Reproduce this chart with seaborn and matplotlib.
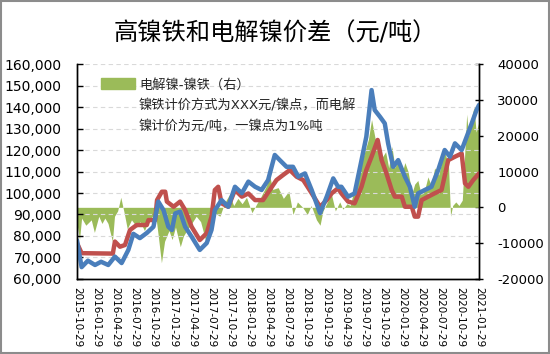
import matplotlib
matplotlib.use("Agg")
import matplotlib.pyplot as plt
import matplotlib.patches as mpatches
import matplotlib.dates as mdates
import matplotlib.ticker as mticker
import pandas as pd
import seaborn as sns

# 高镍铁 / 电解镍 prices (left axis) and spread (right axis)
blue_dates = ["2015-10-29", "2015-11-20", "2015-12-20", "2016-01-23", "2016-02-21", "2016-03-26",
              "2016-04-27", "2016-05-29", "2016-06-30", "2016-07-24", "2016-08-24", "2016-09-26",
              "2016-10-28", "2016-11-20", "2016-12-15", "2017-01-07", "2017-01-24", "2017-02-09",
              "2017-03-04", "2017-03-28", "2017-04-28", "2017-06-06", "2017-07-09", "2017-08-01",
              "2017-08-17", "2017-09-18", "2017-10-20", "2017-11-21", "2017-12-24", "2018-01-24",
              "2018-02-25", "2018-03-28", "2018-04-28", "2018-05-30", "2018-06-23", "2018-07-25",
              "2018-08-25", "2018-09-19", "2018-10-21", "2018-11-22", "2019-01-01", "2019-02-02",
              "2019-03-05", "2019-03-28", "2019-04-13", "2019-05-15", "2019-06-15", "2019-07-18",
              "2019-08-10", "2019-09-04", "2019-09-19", "2019-10-14", "2019-11-06", "2019-11-22",
              "2019-12-16", "2020-01-09", "2020-02-10", "2020-03-05", "2020-03-28", "2020-04-13",
              "2020-05-15", "2020-06-16", "2020-07-18", "2020-08-18", "2020-09-12", "2020-10-06",
              "2020-11-07", "2020-12-01", "2020-12-25", "2021-01-17", "2021-01-29"]
blue_vals = [78000, 65500, 68500, 66500, 68000, 66500,
             70400, 67400, 73500, 81000, 79000, 81400,
             84300, 96000, 92000, 84300, 82800, 90500,
             91300, 84300, 79700, 73500, 76700, 82800,
             92000, 96700, 93600, 102900, 99900, 105300,
             102900, 101400, 106000, 117700, 115300, 112200,
             112200, 107600, 109100, 101400, 90600, 98300,
             106800, 102900, 102900, 98300, 99800, 115300,
             126200, 147900, 138600, 135500, 132400, 123100,
             112200, 115300, 107600, 102900, 93600, 99800,
             101400, 102900, 110700, 120000, 116900, 123100,
             120000, 126200, 132400, 138600, 141000]

red_dates = ["2015-10-29", "2015-11-20", "2016-04-17", "2016-04-27", "2016-05-21", "2016-06-14",
             "2016-07-08", "2016-08-09", "2016-09-26", "2016-10-04", "2016-11-05", "2016-11-14",
             "2016-12-07", "2016-12-23", "2016-12-31", "2017-02-01", "2017-03-04", "2017-03-28",
             "2017-04-28", "2017-06-06", "2017-07-09", "2017-08-01", "2017-08-17", "2017-09-02",
             "2017-09-18", "2017-10-20", "2017-11-21", "2017-12-24", "2018-01-24", "2018-02-25",
             "2018-04-04", "2018-05-06", "2018-06-07", "2018-07-09", "2018-08-10", "2018-09-11",
             "2018-10-13", "2018-11-22", "2019-01-01", "2019-02-02", "2019-02-26", "2019-03-28",
             "2019-04-13", "2019-05-15", "2019-06-15", "2019-07-18", "2019-08-10", "2019-09-04",
             "2019-10-03", "2019-10-22", "2019-11-14", "2019-12-09", "2019-12-24", "2020-01-26",
             "2020-02-10", "2020-03-14", "2020-03-28", "2020-04-13", "2020-04-30", "2020-05-31",
             "2020-07-02", "2020-08-03", "2020-09-04", "2020-10-06", "2020-11-07", "2020-11-23",
             "2020-12-09", "2021-01-01", "2021-01-29"]
red_vals = [76700, 72000, 71800, 77400, 75000, 75800,
            82800, 85100, 85100, 87400, 87400, 96700,
            100600, 100600, 96000, 93600, 96000, 92100,
            84300, 78100, 81300, 89000, 101400, 102900,
            95200, 93600, 101400, 98300, 99800, 96700,
            96700, 101400, 106000, 108400, 110700, 107600,
            106000, 99900, 93600, 96700, 99900, 102200,
            99800, 96000, 95200, 102900, 110700, 116900,
            124700, 115300, 109100, 101400, 98300, 98300,
            93600, 93600, 89000, 89000, 96700, 98300,
            99900, 101400, 115300, 116900, 118400, 104500,
            102900, 106000, 109100]

spread_dates = ["2015-10-29", "2015-11-10", "2015-11-20", "2015-12-10", "2016-01-05", "2016-01-20",
                "2016-02-10", "2016-02-25", "2016-03-10", "2016-03-25", "2016-04-15", "2016-04-25",
                "2016-05-10", "2016-05-25", "2016-06-10", "2016-06-25", "2016-07-15", "2016-08-10",
                "2016-08-25", "2016-09-15", "2016-10-05", "2016-10-25", "2016-11-05", "2016-11-20",
                "2016-12-05", "2016-12-20", "2017-01-10", "2017-01-25", "2017-02-10", "2017-03-05",
                "2017-03-20", "2017-04-10", "2017-04-28", "2017-05-20", "2017-06-10", "2017-07-05",
                "2017-07-25", "2017-08-15", "2017-09-10", "2017-09-25", "2017-10-10", "2017-10-25",
                "2017-11-15", "2017-12-05", "2017-12-25", "2018-01-15", "2018-02-10", "2018-03-05",
                "2018-03-25", "2018-04-20", "2018-05-05", "2018-05-20", "2018-06-15", "2018-07-10",
                "2018-08-05", "2018-08-25", "2018-09-15", "2018-10-10", "2018-11-01", "2018-11-20",
                "2018-12-15", "2019-01-01", "2019-01-15", "2019-02-05", "2019-02-25", "2019-03-15",
                "2019-04-05", "2019-04-20", "2019-05-10", "2019-05-25", "2019-06-15", "2019-07-05",
                "2019-07-20", "2019-08-05", "2019-08-20", "2019-09-04", "2019-09-20", "2019-10-10",
                "2019-10-25", "2019-11-10", "2019-11-25", "2019-12-10", "2019-12-25", "2020-01-10",
                "2020-01-25", "2020-02-10", "2020-02-25", "2020-03-15", "2020-03-28", "2020-04-12",
                "2020-04-28", "2020-05-15", "2020-05-30", "2020-06-15", "2020-07-01", "2020-07-20",
                "2020-08-05", "2020-08-20", "2020-09-05", "2020-09-15", "2020-09-25", "2020-10-10",
                "2020-10-25", "2020-11-10", "2020-11-20", "2020-12-01", "2020-12-10", "2020-12-20",
                "2021-01-05", "2021-01-15", "2021-01-29"]
spread_vals = [-4500, -9000, -3000, -5000, -3500, -7000,
               -2500, -4500, -3000, -4500, -9500, -2500,
               -1000, 2800, -1500, -6000, -3500, -5500,
               -4000, -6500, -3500, -2500, -1000, -8000,
               -15500, -9500, -6500, -9000, -5500, -11000,
               -8000, -6000, -4500, -2500, -4000, -9500,
               -5000, -1500, -2500, 0, 2000, 3500,
               500, 2500, 1000, 2800, -1500, 1000,
               3000, 6000, 9000, 5000, 5500, 2500,
               4500, -2000, 1500, 0, -2000, 500,
               -3500, -5000, -1000, 1500, 3500, -1000,
               1500, -500, 1000, 500, 5500, 9000,
               13000, 16000, 19000, 24500, 19500, 15000,
               14000, 15500, 11000, 17000, 11000, 14000,
               9000, 12500, 10000, 4000, 6500, 7500,
               3500, 5000, 8500, 6000, 11000, 9000,
               13000, 15000, 12000, -2500, 500, 1500,
               500, 2000, 13000, 26000, 20000, 24000,
               28000, 21000, 24000]

x_ticks = ["2015-10-29", "2016-01-29", "2016-04-29", "2016-07-29", "2016-10-29",
           "2017-01-29", "2017-04-29", "2017-07-29", "2017-10-29", "2018-01-29",
           "2018-04-29", "2018-07-29", "2018-10-29", "2019-01-29", "2019-04-29",
           "2019-07-29", "2019-10-29", "2020-01-29", "2020-04-29", "2020-07-29",
           "2020-10-29", "2021-01-29"]

blue_c = "#4A7EBB"
red_c = "#C0504D"
green_c = "#9BBB59"

sns.set_theme(style="white")
plt.rcParams["font.family"] = ["DejaVu Sans", "Noto Sans CJK SC"]
plt.rcParams["axes.unicode_minus"] = False

fig = plt.figure(figsize=(5.5, 3.54), dpi=100)
ax = fig.add_axes([0.14, 0.212, 0.731, 0.607])
ax2 = ax.twinx()
ax.set_zorder(ax2.get_zorder() + 1)
ax.patch.set_visible(False)

sd = pd.to_datetime(spread_dates)
ax2.fill_between(sd, spread_vals, 0, color=green_c, lw=0)
ax2.set_ylim(-20000, 40000)
ax2.yaxis.set_major_locator(mticker.MultipleLocator(10000))
ax2.grid(False)

sns.lineplot(x=pd.to_datetime(red_dates), y=red_vals, ax=ax, color=red_c, lw=3.2)
sns.lineplot(x=pd.to_datetime(blue_dates), y=blue_vals, ax=ax, color=blue_c, lw=3.2)

ax.set_ylim(60000, 160000)
ax.set_xlim(pd.Timestamp("2015-10-29"), pd.Timestamp("2021-01-29"))
ax.yaxis.set_major_locator(mticker.MultipleLocator(10000))
ax.yaxis.set_major_formatter(mticker.StrMethodFormatter("{x:,.0f}"))
ax.set_xticks(pd.to_datetime(x_ticks))
ax.xaxis.set_major_formatter(mdates.DateFormatter("%Y-%m-%d"))
ax.grid(axis="y", color="#D9D9D9", ls=(0, (4, 3)), lw=0.8)
ax.grid(axis="x", visible=False)

for a in (ax, ax2):
    for s in a.spines.values():
        s.set_color("black")
        s.set_linewidth(1.0)
    a.spines["top"].set_visible(False)

ax.tick_params(axis="y", direction="in", length=4, width=1, labelsize=10, colors="black", pad=11)
ax.tick_params(axis="x", direction="inout", length=6, width=1, labelsize=7.5, colors="black",
               labelrotation=-90, pad=3)
ax2.tick_params(axis="y", direction="inout", length=6, width=1, labelsize=9.5, colors="black", pad=10)
ax.set_xlabel("")
ax.set_ylabel("")

handle = mpatches.Patch(color=green_c)
ax.legend([handle], ["电解镍-镍铁（右）"], loc="upper left", bbox_to_anchor=(0.04, 0.97),
          frameon=False, fontsize=9.5, handlelength=2.6, handleheight=0.9, handletextpad=0.3,
          borderaxespad=0.2)
ax.text(0.152, 0.835, "镍铁计价方式为XXX元/镍点，而电解\n镍计价为元/吨，一镍点为1%吨",
        transform=ax.transAxes, fontsize=9.5, va="top", ha="left", linespacing=1.65)

fig.suptitle("高镍铁和电解镍价差（元/吨）", x=0.5, y=0.94, fontsize=17.5, color="black")
fig.patches.append(mpatches.Rectangle((0.002, 0.003), 0.996, 0.994, transform=fig.transFigure,
                                      fill=False, edgecolor="#8C8C8C", lw=1.5))

fig.savefig("out.png", dpi=100)
